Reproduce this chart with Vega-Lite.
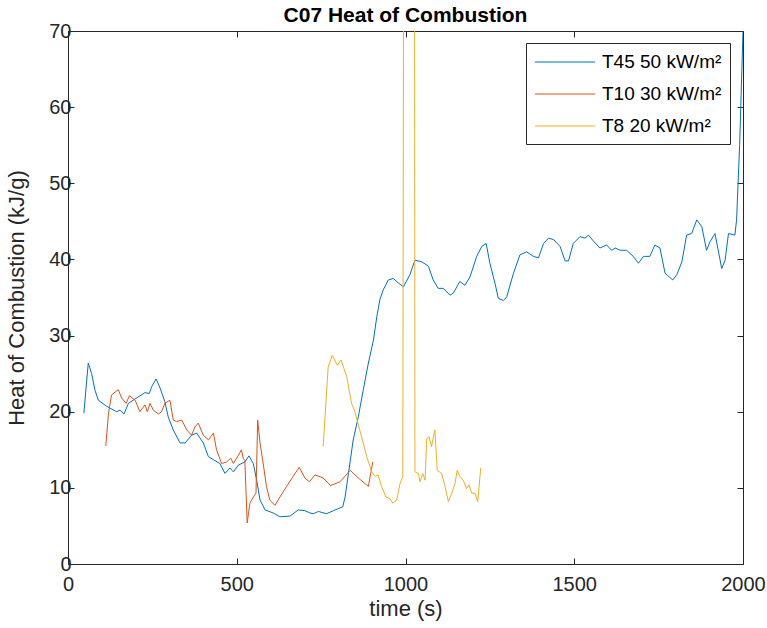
{
  "$schema": "https://vega.github.io/schema/vega-lite/v6.json",
  "autosize": {"type": "none"},
  "width": 675,
  "height": 533,
  "padding": {"left": 68, "top": 31, "right": 24, "bottom": 64},
  "background": "white",
  "config": {
    "font": "Liberation Sans",
    "view": {"stroke": "#262626", "strokeWidth": 1},
    "axis": {"domain": false, "grid": false, "labelFont": "Liberation Sans", "titleFont": "Liberation Sans", "labelColor": "#262626", "titleColor": "#262626", "tickColor": "#262626", "labelFontSize": 20, "titleFontSize": 22, "titleFontWeight": "normal", "tickSize": -6, "tickWidth": 1, "labelFlush": false}
  },
  "title": {"text": "C07 Heat of Combustion", "fontSize": 21, "fontWeight": "bold", "color": "black", "font": "Liberation Sans", "offset": -5},
  "datasets": {
    "hoc": [
      {"t": 47, "v": 19.8, "s": "T45 50 kW/m²", "seg": 1},
      {"t": 60, "v": 26.4, "s": "T45 50 kW/m²", "seg": 1},
      {"t": 70, "v": 25.0, "s": "T45 50 kW/m²", "seg": 1},
      {"t": 80, "v": 22.8, "s": "T45 50 kW/m²", "seg": 1},
      {"t": 90, "v": 21.5, "s": "T45 50 kW/m²", "seg": 1},
      {"t": 115, "v": 20.7, "s": "T45 50 kW/m²", "seg": 1},
      {"t": 144, "v": 20.0, "s": "T45 50 kW/m²", "seg": 1},
      {"t": 154, "v": 20.2, "s": "T45 50 kW/m²", "seg": 1},
      {"t": 166, "v": 19.7, "s": "T45 50 kW/m²", "seg": 1},
      {"t": 179, "v": 21.1, "s": "T45 50 kW/m²", "seg": 1},
      {"t": 203, "v": 21.8, "s": "T45 50 kW/m²", "seg": 1},
      {"t": 228, "v": 22.5, "s": "T45 50 kW/m²", "seg": 1},
      {"t": 241, "v": 22.4, "s": "T45 50 kW/m²", "seg": 1},
      {"t": 248, "v": 23.3, "s": "T45 50 kW/m²", "seg": 1},
      {"t": 261, "v": 24.3, "s": "T45 50 kW/m²", "seg": 1},
      {"t": 273, "v": 23.1, "s": "T45 50 kW/m²", "seg": 1},
      {"t": 287, "v": 21.3, "s": "T45 50 kW/m²", "seg": 1},
      {"t": 297, "v": 19.3, "s": "T45 50 kW/m²", "seg": 1},
      {"t": 312, "v": 17.6, "s": "T45 50 kW/m²", "seg": 1},
      {"t": 332, "v": 15.9, "s": "T45 50 kW/m²", "seg": 1},
      {"t": 347, "v": 15.9, "s": "T45 50 kW/m²", "seg": 1},
      {"t": 366, "v": 16.9, "s": "T45 50 kW/m²", "seg": 1},
      {"t": 381, "v": 17.2, "s": "T45 50 kW/m²", "seg": 1},
      {"t": 401, "v": 15.9, "s": "T45 50 kW/m²", "seg": 1},
      {"t": 416, "v": 14.1, "s": "T45 50 kW/m²", "seg": 1},
      {"t": 431, "v": 13.7, "s": "T45 50 kW/m²", "seg": 1},
      {"t": 450, "v": 13.2, "s": "T45 50 kW/m²", "seg": 1},
      {"t": 465, "v": 11.9, "s": "T45 50 kW/m²", "seg": 1},
      {"t": 480, "v": 12.6, "s": "T45 50 kW/m²", "seg": 1},
      {"t": 490, "v": 12.1, "s": "T45 50 kW/m²", "seg": 1},
      {"t": 505, "v": 13.0, "s": "T45 50 kW/m²", "seg": 1},
      {"t": 524, "v": 13.4, "s": "T45 50 kW/m²", "seg": 1},
      {"t": 536, "v": 14.2, "s": "T45 50 kW/m²", "seg": 1},
      {"t": 549, "v": 13.2, "s": "T45 50 kW/m²", "seg": 1},
      {"t": 559, "v": 11.0, "s": "T45 50 kW/m²", "seg": 1},
      {"t": 569, "v": 8.4, "s": "T45 50 kW/m²", "seg": 1},
      {"t": 584, "v": 7.1, "s": "T45 50 kW/m²", "seg": 1},
      {"t": 608, "v": 6.7, "s": "T45 50 kW/m²", "seg": 1},
      {"t": 628, "v": 6.2, "s": "T45 50 kW/m²", "seg": 1},
      {"t": 658, "v": 6.3, "s": "T45 50 kW/m²", "seg": 1},
      {"t": 682, "v": 7.1, "s": "T45 50 kW/m²", "seg": 1},
      {"t": 702, "v": 7.0, "s": "T45 50 kW/m²", "seg": 1},
      {"t": 717, "v": 6.7, "s": "T45 50 kW/m²", "seg": 1},
      {"t": 727, "v": 6.6, "s": "T45 50 kW/m²", "seg": 1},
      {"t": 742, "v": 6.9, "s": "T45 50 kW/m²", "seg": 1},
      {"t": 766, "v": 6.6, "s": "T45 50 kW/m²", "seg": 1},
      {"t": 786, "v": 7.0, "s": "T45 50 kW/m²", "seg": 1},
      {"t": 814, "v": 7.5, "s": "T45 50 kW/m²", "seg": 1},
      {"t": 821, "v": 8.8, "s": "T45 50 kW/m²", "seg": 1},
      {"t": 831, "v": 11.9, "s": "T45 50 kW/m²", "seg": 1},
      {"t": 845, "v": 16.3, "s": "T45 50 kW/m²", "seg": 1},
      {"t": 860, "v": 19.3, "s": "T45 50 kW/m²", "seg": 1},
      {"t": 875, "v": 22.9, "s": "T45 50 kW/m²", "seg": 1},
      {"t": 890, "v": 26.4, "s": "T45 50 kW/m²", "seg": 1},
      {"t": 905, "v": 29.4, "s": "T45 50 kW/m²", "seg": 1},
      {"t": 915, "v": 32.5, "s": "T45 50 kW/m²", "seg": 1},
      {"t": 924, "v": 34.7, "s": "T45 50 kW/m²", "seg": 1},
      {"t": 934, "v": 36.0, "s": "T45 50 kW/m²", "seg": 1},
      {"t": 949, "v": 37.3, "s": "T45 50 kW/m²", "seg": 1},
      {"t": 964, "v": 37.5, "s": "T45 50 kW/m²", "seg": 1},
      {"t": 979, "v": 36.9, "s": "T45 50 kW/m²", "seg": 1},
      {"t": 994, "v": 36.4, "s": "T45 50 kW/m²", "seg": 1},
      {"t": 1013, "v": 38.0, "s": "T45 50 kW/m²", "seg": 1},
      {"t": 1028, "v": 39.9, "s": "T45 50 kW/m²", "seg": 1},
      {"t": 1048, "v": 39.7, "s": "T45 50 kW/m²", "seg": 1},
      {"t": 1068, "v": 39.1, "s": "T45 50 kW/m²", "seg": 1},
      {"t": 1082, "v": 37.3, "s": "T45 50 kW/m²", "seg": 1},
      {"t": 1097, "v": 36.2, "s": "T45 50 kW/m²", "seg": 1},
      {"t": 1112, "v": 36.2, "s": "T45 50 kW/m²", "seg": 1},
      {"t": 1132, "v": 35.3, "s": "T45 50 kW/m²", "seg": 1},
      {"t": 1142, "v": 35.6, "s": "T45 50 kW/m²", "seg": 1},
      {"t": 1161, "v": 37.1, "s": "T45 50 kW/m²", "seg": 1},
      {"t": 1176, "v": 36.6, "s": "T45 50 kW/m²", "seg": 1},
      {"t": 1191, "v": 37.7, "s": "T45 50 kW/m²", "seg": 1},
      {"t": 1211, "v": 40.4, "s": "T45 50 kW/m²", "seg": 1},
      {"t": 1226, "v": 41.7, "s": "T45 50 kW/m²", "seg": 1},
      {"t": 1239, "v": 42.1, "s": "T45 50 kW/m²", "seg": 1},
      {"t": 1250, "v": 39.5, "s": "T45 50 kW/m²", "seg": 1},
      {"t": 1265, "v": 36.9, "s": "T45 50 kW/m²", "seg": 1},
      {"t": 1275, "v": 34.9, "s": "T45 50 kW/m²", "seg": 1},
      {"t": 1290, "v": 34.6, "s": "T45 50 kW/m²", "seg": 1},
      {"t": 1300, "v": 35.1, "s": "T45 50 kW/m²", "seg": 1},
      {"t": 1320, "v": 38.2, "s": "T45 50 kW/m²", "seg": 1},
      {"t": 1339, "v": 40.6, "s": "T45 50 kW/m²", "seg": 1},
      {"t": 1359, "v": 41.0, "s": "T45 50 kW/m²", "seg": 1},
      {"t": 1379, "v": 40.4, "s": "T45 50 kW/m²", "seg": 1},
      {"t": 1394, "v": 40.2, "s": "T45 50 kW/m²", "seg": 1},
      {"t": 1409, "v": 42.1, "s": "T45 50 kW/m²", "seg": 1},
      {"t": 1424, "v": 42.8, "s": "T45 50 kW/m²", "seg": 1},
      {"t": 1439, "v": 42.6, "s": "T45 50 kW/m²", "seg": 1},
      {"t": 1458, "v": 41.7, "s": "T45 50 kW/m²", "seg": 1},
      {"t": 1473, "v": 39.8, "s": "T45 50 kW/m²", "seg": 1},
      {"t": 1483, "v": 39.8, "s": "T45 50 kW/m²", "seg": 1},
      {"t": 1497, "v": 42.1, "s": "T45 50 kW/m²", "seg": 1},
      {"t": 1517, "v": 43.0, "s": "T45 50 kW/m²", "seg": 1},
      {"t": 1532, "v": 42.8, "s": "T45 50 kW/m²", "seg": 1},
      {"t": 1542, "v": 43.2, "s": "T45 50 kW/m²", "seg": 1},
      {"t": 1557, "v": 42.4, "s": "T45 50 kW/m²", "seg": 1},
      {"t": 1576, "v": 41.5, "s": "T45 50 kW/m²", "seg": 1},
      {"t": 1596, "v": 41.9, "s": "T45 50 kW/m²", "seg": 1},
      {"t": 1611, "v": 41.2, "s": "T45 50 kW/m²", "seg": 1},
      {"t": 1621, "v": 41.5, "s": "T45 50 kW/m²", "seg": 1},
      {"t": 1636, "v": 41.2, "s": "T45 50 kW/m²", "seg": 1},
      {"t": 1655, "v": 41.2, "s": "T45 50 kW/m²", "seg": 1},
      {"t": 1675, "v": 40.4, "s": "T45 50 kW/m²", "seg": 1},
      {"t": 1690, "v": 39.5, "s": "T45 50 kW/m²", "seg": 1},
      {"t": 1705, "v": 40.4, "s": "T45 50 kW/m²", "seg": 1},
      {"t": 1724, "v": 40.4, "s": "T45 50 kW/m²", "seg": 1},
      {"t": 1739, "v": 41.9, "s": "T45 50 kW/m²", "seg": 1},
      {"t": 1754, "v": 41.5, "s": "T45 50 kW/m²", "seg": 1},
      {"t": 1769, "v": 38.2, "s": "T45 50 kW/m²", "seg": 1},
      {"t": 1792, "v": 37.3, "s": "T45 50 kW/m²", "seg": 1},
      {"t": 1804, "v": 38.0, "s": "T45 50 kW/m²", "seg": 1},
      {"t": 1819, "v": 39.7, "s": "T45 50 kW/m²", "seg": 1},
      {"t": 1833, "v": 43.2, "s": "T45 50 kW/m²", "seg": 1},
      {"t": 1848, "v": 43.4, "s": "T45 50 kW/m²", "seg": 1},
      {"t": 1863, "v": 45.2, "s": "T45 50 kW/m²", "seg": 1},
      {"t": 1878, "v": 44.3, "s": "T45 50 kW/m²", "seg": 1},
      {"t": 1892, "v": 41.2, "s": "T45 50 kW/m²", "seg": 1},
      {"t": 1902, "v": 42.3, "s": "T45 50 kW/m²", "seg": 1},
      {"t": 1917, "v": 43.4, "s": "T45 50 kW/m²", "seg": 1},
      {"t": 1937, "v": 38.8, "s": "T45 50 kW/m²", "seg": 1},
      {"t": 1947, "v": 39.9, "s": "T45 50 kW/m²", "seg": 1},
      {"t": 1957, "v": 43.4, "s": "T45 50 kW/m²", "seg": 1},
      {"t": 1976, "v": 43.2, "s": "T45 50 kW/m²", "seg": 1},
      {"t": 1981, "v": 45.2, "s": "T45 50 kW/m²", "seg": 1},
      {"t": 1990, "v": 55.0, "s": "T45 50 kW/m²", "seg": 1},
      {"t": 2000, "v": 70.0, "s": "T45 50 kW/m²", "seg": 1},

      {"t": 112, "v": 15.5, "s": "T10 30 kW/m²", "seg": 1},
      {"t": 120, "v": 19.8, "s": "T10 30 kW/m²", "seg": 1},
      {"t": 129, "v": 22.2, "s": "T10 30 kW/m²", "seg": 1},
      {"t": 149, "v": 22.9, "s": "T10 30 kW/m²", "seg": 1},
      {"t": 159, "v": 21.8, "s": "T10 30 kW/m²", "seg": 1},
      {"t": 172, "v": 21.1, "s": "T10 30 kW/m²", "seg": 1},
      {"t": 182, "v": 22.1, "s": "T10 30 kW/m²", "seg": 1},
      {"t": 199, "v": 21.5, "s": "T10 30 kW/m²", "seg": 1},
      {"t": 213, "v": 20.0, "s": "T10 30 kW/m²", "seg": 1},
      {"t": 228, "v": 20.9, "s": "T10 30 kW/m²", "seg": 1},
      {"t": 235, "v": 20.0, "s": "T10 30 kW/m²", "seg": 1},
      {"t": 243, "v": 21.1, "s": "T10 30 kW/m²", "seg": 1},
      {"t": 253, "v": 20.2, "s": "T10 30 kW/m²", "seg": 1},
      {"t": 268, "v": 19.7, "s": "T10 30 kW/m²", "seg": 1},
      {"t": 277, "v": 20.0, "s": "T10 30 kW/m²", "seg": 1},
      {"t": 287, "v": 21.1, "s": "T10 30 kW/m²", "seg": 1},
      {"t": 302, "v": 21.5, "s": "T10 30 kW/m²", "seg": 1},
      {"t": 312, "v": 18.9, "s": "T10 30 kW/m²", "seg": 1},
      {"t": 322, "v": 18.7, "s": "T10 30 kW/m²", "seg": 1},
      {"t": 337, "v": 18.9, "s": "T10 30 kW/m²", "seg": 1},
      {"t": 352, "v": 17.6, "s": "T10 30 kW/m²", "seg": 1},
      {"t": 366, "v": 16.9, "s": "T10 30 kW/m²", "seg": 1},
      {"t": 376, "v": 18.0, "s": "T10 30 kW/m²", "seg": 1},
      {"t": 386, "v": 18.5, "s": "T10 30 kW/m²", "seg": 1},
      {"t": 401, "v": 16.9, "s": "T10 30 kW/m²", "seg": 1},
      {"t": 416, "v": 16.3, "s": "T10 30 kW/m²", "seg": 1},
      {"t": 431, "v": 17.2, "s": "T10 30 kW/m²", "seg": 1},
      {"t": 440, "v": 15.0, "s": "T10 30 kW/m²", "seg": 1},
      {"t": 455, "v": 13.2, "s": "T10 30 kW/m²", "seg": 1},
      {"t": 470, "v": 13.4, "s": "T10 30 kW/m²", "seg": 1},
      {"t": 482, "v": 13.9, "s": "T10 30 kW/m²", "seg": 1},
      {"t": 490, "v": 13.2, "s": "T10 30 kW/m²", "seg": 1},
      {"t": 505, "v": 14.3, "s": "T10 30 kW/m²", "seg": 1},
      {"t": 514, "v": 15.0, "s": "T10 30 kW/m²", "seg": 1},
      {"t": 519, "v": 13.9, "s": "T10 30 kW/m²", "seg": 1},
      {"t": 524, "v": 13.6, "s": "T10 30 kW/m²", "seg": 1},
      {"t": 531, "v": 5.4, "s": "T10 30 kW/m²", "seg": 1},
      {"t": 539, "v": 8.0, "s": "T10 30 kW/m²", "seg": 1},
      {"t": 549, "v": 8.8, "s": "T10 30 kW/m²", "seg": 1},
      {"t": 557, "v": 9.3, "s": "T10 30 kW/m²", "seg": 1},
      {"t": 562, "v": 18.9, "s": "T10 30 kW/m²", "seg": 1},
      {"t": 569, "v": 15.9, "s": "T10 30 kW/m²", "seg": 1},
      {"t": 579, "v": 13.0, "s": "T10 30 kW/m²", "seg": 1},
      {"t": 588, "v": 10.2, "s": "T10 30 kW/m²", "seg": 1},
      {"t": 598, "v": 8.4, "s": "T10 30 kW/m²", "seg": 1},
      {"t": 613, "v": 7.7, "s": "T10 30 kW/m²", "seg": 1},
      {"t": 628, "v": 8.8, "s": "T10 30 kW/m²", "seg": 1},
      {"t": 648, "v": 10.2, "s": "T10 30 kW/m²", "seg": 1},
      {"t": 667, "v": 11.5, "s": "T10 30 kW/m²", "seg": 1},
      {"t": 685, "v": 12.7, "s": "T10 30 kW/m²", "seg": 1},
      {"t": 702, "v": 11.3, "s": "T10 30 kW/m²", "seg": 1},
      {"t": 715, "v": 10.8, "s": "T10 30 kW/m²", "seg": 1},
      {"t": 732, "v": 11.7, "s": "T10 30 kW/m²", "seg": 1},
      {"t": 756, "v": 11.3, "s": "T10 30 kW/m²", "seg": 1},
      {"t": 778, "v": 10.3, "s": "T10 30 kW/m²", "seg": 1},
      {"t": 806, "v": 10.8, "s": "T10 30 kW/m²", "seg": 1},
      {"t": 836, "v": 12.3, "s": "T10 30 kW/m²", "seg": 1},
      {"t": 860, "v": 11.3, "s": "T10 30 kW/m²", "seg": 1},
      {"t": 890, "v": 10.2, "s": "T10 30 kW/m²", "seg": 1},
      {"t": 897, "v": 11.9, "s": "T10 30 kW/m²", "seg": 1},
      {"t": 903, "v": 13.4, "s": "T10 30 kW/m²", "seg": 1},

      {"t": 756, "v": 15.4, "s": "T8 20 kW/m²", "seg": 1},
      {"t": 771, "v": 25.9, "s": "T8 20 kW/m²", "seg": 1},
      {"t": 783, "v": 27.4, "s": "T8 20 kW/m²", "seg": 1},
      {"t": 798, "v": 26.1, "s": "T8 20 kW/m²", "seg": 1},
      {"t": 809, "v": 26.8, "s": "T8 20 kW/m²", "seg": 1},
      {"t": 826, "v": 24.6, "s": "T8 20 kW/m²", "seg": 1},
      {"t": 840, "v": 21.1, "s": "T8 20 kW/m²", "seg": 1},
      {"t": 850, "v": 20.0, "s": "T8 20 kW/m²", "seg": 1},
      {"t": 870, "v": 16.7, "s": "T8 20 kW/m²", "seg": 1},
      {"t": 885, "v": 14.1, "s": "T8 20 kW/m²", "seg": 1},
      {"t": 900, "v": 12.1, "s": "T8 20 kW/m²", "seg": 1},
      {"t": 910, "v": 11.5, "s": "T8 20 kW/m²", "seg": 1},
      {"t": 919, "v": 11.7, "s": "T8 20 kW/m²", "seg": 1},
      {"t": 929, "v": 10.2, "s": "T8 20 kW/m²", "seg": 1},
      {"t": 942, "v": 8.8, "s": "T8 20 kW/m²", "seg": 1},
      {"t": 954, "v": 8.6, "s": "T8 20 kW/m²", "seg": 1},
      {"t": 962, "v": 8.0, "s": "T8 20 kW/m²", "seg": 1},
      {"t": 974, "v": 8.4, "s": "T8 20 kW/m²", "seg": 1},
      {"t": 984, "v": 10.6, "s": "T8 20 kW/m²", "seg": 1},
      {"t": 992, "v": 11.5, "s": "T8 20 kW/m²", "seg": 1},
      {"t": 994, "v": 70, "s": "T8 20 kW/m²", "seg": 1},
      {"t": 1027, "v": 70, "s": "T8 20 kW/m²", "seg": 2},
      {"t": 1028, "v": 12.1, "s": "T8 20 kW/m²", "seg": 2},
      {"t": 1038, "v": 11.9, "s": "T8 20 kW/m²", "seg": 2},
      {"t": 1043, "v": 10.8, "s": "T8 20 kW/m²", "seg": 2},
      {"t": 1051, "v": 11.9, "s": "T8 20 kW/m²", "seg": 2},
      {"t": 1058, "v": 11.0, "s": "T8 20 kW/m²", "seg": 2},
      {"t": 1063, "v": 16.5, "s": "T8 20 kW/m²", "seg": 2},
      {"t": 1070, "v": 16.7, "s": "T8 20 kW/m²", "seg": 2},
      {"t": 1077, "v": 15.4, "s": "T8 20 kW/m²", "seg": 2},
      {"t": 1087, "v": 17.6, "s": "T8 20 kW/m²", "seg": 2},
      {"t": 1094, "v": 12.3, "s": "T8 20 kW/m²", "seg": 2},
      {"t": 1107, "v": 11.9, "s": "T8 20 kW/m²", "seg": 2},
      {"t": 1117, "v": 10.2, "s": "T8 20 kW/m²", "seg": 2},
      {"t": 1127, "v": 8.2, "s": "T8 20 kW/m²", "seg": 2},
      {"t": 1137, "v": 9.3, "s": "T8 20 kW/m²", "seg": 2},
      {"t": 1147, "v": 10.6, "s": "T8 20 kW/m²", "seg": 2},
      {"t": 1153, "v": 12.3, "s": "T8 20 kW/m²", "seg": 2},
      {"t": 1161, "v": 11.5, "s": "T8 20 kW/m²", "seg": 2},
      {"t": 1171, "v": 11.0, "s": "T8 20 kW/m²", "seg": 2},
      {"t": 1181, "v": 9.9, "s": "T8 20 kW/m²", "seg": 2},
      {"t": 1188, "v": 10.4, "s": "T8 20 kW/m²", "seg": 2},
      {"t": 1196, "v": 9.3, "s": "T8 20 kW/m²", "seg": 2},
      {"t": 1206, "v": 9.3, "s": "T8 20 kW/m²", "seg": 2},
      {"t": 1214, "v": 8.2, "s": "T8 20 kW/m²", "seg": 2},
      {"t": 1223, "v": 12.6, "s": "T8 20 kW/m²", "seg": 2}
    ]
  },
  "data": {"name": "hoc"},
  "layer": [
    {
      "mark": {"type": "line", "clip": true, "strokeWidth": 1},
      "encoding": {
        "x": {"field": "t", "type": "quantitative", "scale": {"domain": [0, 2000], "nice": false}, "axis": {"title": "time (s)", "values": [0, 500, 1000, 1500, 2000], "format": "d", "labelPadding": 16, "titlePadding": 4}},
        "y": {"field": "v", "type": "quantitative", "scale": {"domain": [0, 70], "nice": false, "zero": true}, "axis": {"title": "Heat of Combustion (kJ/g)", "values": [0, 10, 20, 30, 40, 50, 60, 70], "labelPadding": 3, "titlePadding": 20}},
        "color": {
          "field": "s", "type": "nominal",
          "scale": {"domain": ["T45 50 kW/m²", "T10 30 kW/m²", "T8 20 kW/m²"], "range": ["#0072BD", "#D95319", "#EDB120"]},
          "legend": {"title": null, "orient": "none", "legendX": 458, "legendY": 12, "direction": "vertical", "symbolType": "M-1,0H5", "symbolSize": 400, "symbolStrokeWidth": 1.2, "symbolFillColor": "transparent", "labelFontSize": 19, "labelFont": "Liberation Sans", "labelColor": "black", "strokeColor": "#262626", "fillColor": "white", "padding": 8, "rowPadding": 11, "labelOffset": 46, "symbolOffset": 0,
            "encode": {"symbols": {"update": {"stroke": {"signal": "datum.value === 'T45 50 kW/m²' ? '#0072BD' : datum.value === 'T10 30 kW/m²' ? '#D95319' : '#EDB120'"}, "opacity": {"value": 1}}}}}
        },
        "detail": {"field": "seg", "type": "nominal"},
        "order": {"field": "t", "type": "quantitative"}
      }
    },
    {
      "mark": {"type": "line", "opacity": 0},
      "encoding": {
        "x": {"field": "t", "type": "quantitative", "scale": {"domain": [0, 2000], "nice": false}, "axis": {"orient": "top", "title": null, "labels": false, "values": [0, 500, 1000, 1500, 2000], "minExtent": 0, "maxExtent": 0}},
        "y": {"field": "v", "type": "quantitative", "scale": {"domain": [0, 70], "nice": false}, "axis": {"orient": "right", "title": null, "labels": false, "values": [0, 10, 20, 30, 40, 50, 60, 70], "minExtent": 0, "maxExtent": 0}}
      }
    }
  ],
  "resolve": {"axis": {"x": "independent", "y": "independent"}}
}
